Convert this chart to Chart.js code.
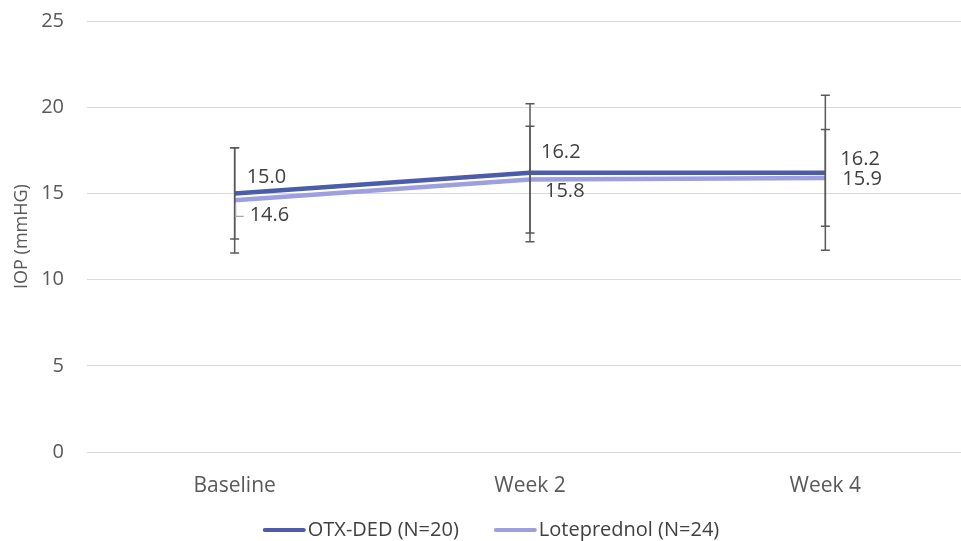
<!DOCTYPE html>
<html>
<head>
<meta charset="utf-8">
<script src="https://cdn.jsdelivr.net/npm/chart.js@4/dist/chart.umd.min.js"></script>
<style>
  html, body { margin: 0; padding: 0; background: #fff; overflow: hidden; width: 961px; height: 541px; }
  #wrap { width: 975px; height: 541px; }
</style>
</head>
<body>
<div id="wrap"><canvas id="c" width="975" height="541"></canvas></div>
<script>
// Visits
const categories = ['Baseline', 'Week 2', 'Week 4'];

// Mean IOP (mmHg) per group
const otxMean = [15.0, 16.2, 16.2];
const loteMean = [14.6, 15.8, 15.9];

// Standard deviations (error bar half-lengths)
const otxSd = [2.65, 4.0, 4.5];
const loteSd = [3.05, 3.1, 2.8];

const seriesNames = ['OTX-DED (N=20)', 'Loteprednol (N=24)'];
const yTicks = [0, 5, 10, 15, 20, 25];

// Label placement relative to each point: [dx, dy] in pixels
const labelOffsets = [
  [[12, -16], [11, -20], [15, -13]],
  [[15, 15], [15, 12], [17, 1]]
];

const FONT = '"Open Sans", "Liberation Sans", sans-serif';

const errorBars = {
  id: 'errorBars',
  afterDatasetsDraw(chart) {
    const ctx = chart.ctx;
    const y = chart.scales.y;
    ctx.save();
    ctx.strokeStyle = '#595959';
    ctx.lineWidth = 1.5;
    chart.data.datasets.forEach((ds, di) => {
      const meta = chart.getDatasetMeta(di);
      meta.data.forEach((pt, i) => {
        const v = ds.data[i], sd = ds.sd[i];
        const yt = y.getPixelForValue(v + sd);
        const yb = y.getPixelForValue(v - sd);
        const x = pt.x;
        ctx.beginPath();
        ctx.moveTo(x, yt); ctx.lineTo(x, yb);
        ctx.moveTo(x - 4.5, yt); ctx.lineTo(x + 4.5, yt);
        ctx.moveTo(x - 4.5, yb); ctx.lineTo(x + 4.5, yb);
        ctx.stroke();
      });
    });
    ctx.restore();
  }
};

const valueLabels = {
  id: 'valueLabels',
  afterDatasetsDraw(chart) {
    const ctx = chart.ctx;
    ctx.save();
    ctx.font = '20px ' + FONT;
    ctx.fillStyle = '#404040';
    ctx.textAlign = 'left';
    ctx.textBaseline = 'middle';
    chart.data.datasets.forEach((ds, di) => {
      const meta = chart.getDatasetMeta(di);
      meta.data.forEach((pt, i) => {
        const [dx, dy] = labelOffsets[di][i];
        ctx.fillText(ds.data[i].toFixed(1), pt.x + dx, pt.y + dy);
      });
    });
    // leader line for the lower baseline label
    const p = chart.getDatasetMeta(1).data[0];
    ctx.strokeStyle = '#a6a6a6';
    ctx.lineWidth = 1.2;
    ctx.beginPath();
    ctx.moveTo(p.x + 1, p.y + 4);
    ctx.lineTo(p.x + 1, p.y + 16);
    ctx.lineTo(p.x + 9, p.y + 16);
    ctx.stroke();
    ctx.restore();
  }
};

// Legend row under the axis: short line sample followed by the series name
const lineLegend = {
  id: 'lineLegend',
  afterDraw(chart) {
    const ctx = chart.ctx;
    const sample = 43, textGap = 2, itemGap = 35;
    const cy = 530;
    ctx.save();
    ctx.font = '20px ' + FONT;
    const items = chart.data.datasets.map(ds => ({
      text: ds.label, color: ds.borderColor, w: ctx.measureText(ds.label).width
    }));
    const total = items.reduce((s, it) => s + sample + textGap + it.w, 0) + itemGap * (items.length - 1);
    let x = 491 - total / 2;
    ctx.textAlign = 'left';
    ctx.textBaseline = 'middle';
    items.forEach(it => {
      ctx.strokeStyle = it.color;
      ctx.lineWidth = 4;
      ctx.lineCap = 'round';
      ctx.beginPath();
      ctx.moveTo(x + 2, cy);
      ctx.lineTo(x + sample - 2, cy);
      ctx.stroke();
      ctx.fillStyle = '#404040';
      ctx.fillText(it.text, x + sample + textGap, cy);
      x += sample + textGap + it.w + itemGap;
    });
    ctx.restore();
  }
};

new Chart(document.getElementById('c'), {
  type: 'line',
  data: {
    labels: categories,
    datasets: [
      {
        label: seriesNames[0],
        data: otxMean,
        sd: otxSd,
        borderColor: '#4a5caa',
        backgroundColor: '#4a5caa',
        borderWidth: 4.5,
        pointRadius: 0,
        tension: 0
      },
      {
        label: seriesNames[1],
        data: loteMean,
        sd: loteSd,
        borderColor: '#9d9fde',
        backgroundColor: '#9d9fde',
        borderWidth: 4.5,
        pointRadius: 0,
        tension: 0
      }
    ]
  },
  options: {
    responsive: false,
    animation: false,
    layout: { padding: { top: 0, right: 2, left: 0, bottom: 38 } },
    plugins: {
      tooltip: { enabled: false },
      legend: { display: false }
    },
    scales: {
      x: {
        offset: true,
        grid: { display: false, drawTicks: false },
        border: { display: false },
        ticks: { color: '#595959', font: { family: FONT, size: 21 }, padding: 21 },
        afterFit(scale) { scale.height = 51; }
      },
      y: {
        min: 0,
        max: 25,
        afterBuildTicks(scale) { scale.ticks = yTicks.map(v => ({ value: v })); },
        afterFit(scale) {
          scale.width = 87;
          scale.paddingTop = 21;
          scale.paddingBottom = 0;
        },
        grid: { color: '#d9d9d9', lineWidth: 1, drawTicks: false },
        border: { display: false },
        ticks: { color: '#595959', font: { family: FONT, size: 20 }, padding: 23 },
        title: {
          display: true,
          text: 'IOP (mmHG)',
          color: '#595959',
          font: { family: FONT, size: 18 },
          padding: { top: 11, bottom: 4 }
        }
      }
    }
  },
  plugins: [errorBars, valueLabels, lineLegend]
});
</script>
</body>
</html>
